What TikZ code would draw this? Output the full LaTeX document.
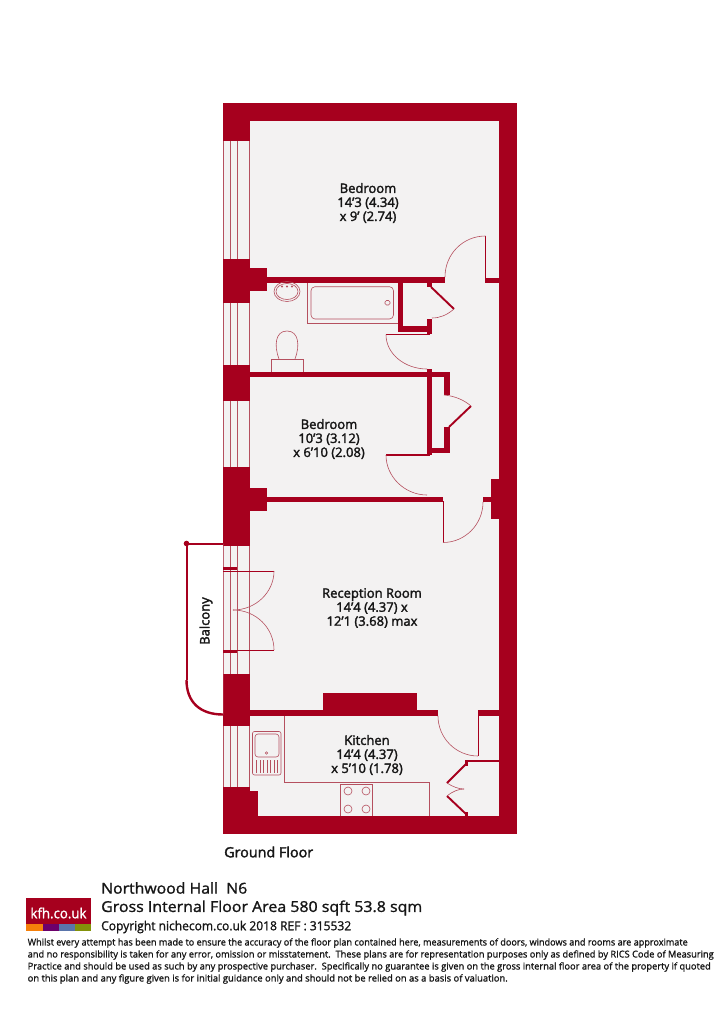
\documentclass[tikz,border=0pt]{standalone}
\usepackage{fontspec}
\usepackage{graphicx}
\setmainfont{Open Sans}[FakeBold=2.2]
\newfontfamily\finefont{Open Sans}[FakeBold=1.3]
\definecolor{wallc}{HTML}{A6001E}
\definecolor{floorc}{HTML}{F3F2F2}
\definecolor{thinc}{HTML}{B5505F}
\definecolor{inkc}{HTML}{161616}
\tikzset{
  wall/.style={fill=wallc,draw=none},
  thin line/.style={draw=thinc,line width=0.6pt},
  heavy line/.style={draw=wallc,line width=1.9pt},
  room/.style={text=inkc,align=center,inner sep=0pt,font=\fontsize{13}{14}\selectfont},
  head/.style={text=inkc,anchor=west,inner sep=0pt},
  fine/.style={text=inkc,anchor=west,inner sep=0pt,font=\finefont\fontsize{9.4}{10}\selectfont}
}
\newcommand{\wl}[4]{\fill[wall] (#1,#2) rectangle (#3,#4);}
\newcommand{\fit}[2]{\resizebox{#1pt}{\height}{#2}}
\begin{document}
\begin{tikzpicture}[x=1pt,y=-1pt]
\useasboundingbox (0,0) rectangle (715,1033);
% floor
\fill[floorc] (223,103) rectangle (517,834);
% window lines
\foreach \a/\b in {141/259,303/365,401/467,546/674,726/787}{
  \foreach \x in {223.4,230.5,237.5,249.5}{
    \draw[thin line] (\x,\a) -- (\x,\b);
  }
}
% outer walls
\wl{223}{103}{517}{121}
\wl{499}{103}{517}{834}
\wl{223}{816}{517}{834}
% piers
\wl{223}{103}{249.5}{141}
\wl{223}{259}{249.5}{303}
\wl{249}{268}{267}{291}
\wl{223}{365}{249.5}{401}
\wl{223}{467}{249.5}{546}
\wl{249}{487.5}{267}{511}
\wl{223}{674}{249.5}{726}
\wl{223}{787}{249.5}{816}
\wl{249}{791}{258}{816}
% first cross wall
\wl{267}{277}{445}{283}
\wl{485}{277.5}{499}{283}
\wl{397.5}{283}{403}{332}
\wl{397.5}{326}{432}{332}
\wl{427}{319}{432}{334}
\wl{427}{283}{432}{287}
% second cross wall
\wl{249}{372}{449.5}{377}
\wl{427}{369}{432}{455}
\wl{444}{372}{449.5}{395}
\wl{444}{427}{449.5}{453}
\wl{432}{447.5}{449.5}{453}
% third cross wall
\wl{267}{496.5}{443}{502}
\wl{483}{497}{490.5}{502}
\wl{490.5}{479}{499}{519}
% kitchen wall
\wl{249}{710}{438}{716}
\wl{323}{692.5}{416.5}{710}
\wl{478}{710}{499}{716}
\wl{465}{759.5}{499}{762}
\wl{464.5}{760}{467.5}{766}
\wl{464.5}{812}{467.5}{816}
% bedroom door
\draw[draw=wallc,line width=1pt] (485.5,236) -- (485.5,278);
\draw[thin line] (485.5,236) .. controls (463,236) and (445,254) .. (445,277);
% bathroom closet door
\draw[heavy line] (431,287) -- (454,309);
\draw[thin line] (454,309) .. controls (447,315) and (440,318) .. (432,318);
% bathroom door
\draw[draw=wallc,line width=1.2pt] (386,334.7) -- (430,334.7);
\draw[thin line] (386,334.7) .. controls (386,354) and (405,369) .. (427,369);
% second closet door
\draw[heavy line] (471,406) -- (449,427);
\draw[thin line] (444,395) .. controls (455,396) and (464,400) .. (471,406);
% bedroom 2 door
\draw[draw=wallc,line width=1.2pt] (386,455) -- (430,455);
\draw[thin line] (386,455) .. controls (386,477) and (405,495) .. (427,495);
% entrance door
\draw[draw=wallc,line width=1pt] (443,501) -- (443,542.5);
\draw[thin line] (443,542.5) .. controls (465,542.5) and (483,524.5) .. (483,502);
% balcony
\fill[white] (186.5,543.5) -- (223,543.5) -- (223,714.5) .. controls (200,714.5) and (186.5,702) .. (186.5,680) -- cycle;
\draw[draw=wallc,line width=2pt] (186.5,680) -- (186.5,543.5) -- (223,543.5);
\draw[draw=wallc,line width=2.4pt] (186.5,680) .. controls (186.5,702) and (200,714.5) .. (223,714.5);
\fill[wallc] (186.5,543.5) circle[radius=2.8];
% balcony doors
\wl{223}{567}{237}{570}
\wl{223}{650}{237}{653}
\draw[draw=wallc,line width=1pt] (223,571) -- (274,571);
\draw[draw=wallc,line width=1pt] (223,650) -- (274,650);
\draw[thin line] (274,571) .. controls (274,592) and (256,610) .. (233,610);
\draw[thin line] (274,650) .. controls (274,628) and (256,610) .. (233,610);
% kitchen door
\draw[draw=wallc,line width=1pt] (478,711) -- (478,756);
\draw[thin line] (438,716) .. controls (438,738) and (456,756) .. (478,756);
% kitchen cupboard doors
\draw[heavy line] (466,764) -- (447,783);
\draw[heavy line] (447,796) -- (466,814);
\draw[thin line] (447,783) .. controls (453,787) and (459,789) .. (464,789);
\draw[thin line] (447,796) .. controls (453,791) and (459,789) .. (464,789);
% basin
\draw[thin line] (287,291.5) ellipse[x radius=13,y radius=10];
\draw[thin line] (287,291.5) ellipse[x radius=11,y radius=8];
\foreach \x in {282,287,292}{\fill[thinc] (\x,286.5) circle[radius=1.2];}
% bath
\draw[thin line] (307,283) -- (307,323) -- (397.5,323);
\draw[thin line,rounded corners=4pt] (311,286.7) rectangle (393.5,319);
\draw[thin line,rounded corners=1.5pt] (385,300.5) rectangle (390,305);
% toilet
\draw[thin line] (271,372) -- (271,359) -- (303.5,359) -- (303.5,372);
\draw[thin line] (279,359) .. controls (274,346) and (275,331) .. (287,331) .. controls (299,331) and (300,346) .. (295,359);
% sink
\draw[thin line,rounded corners=2pt] (252.5,731.5) rectangle (281,775);
\draw[thin line,rounded corners=3pt] (255,734) rectangle (279,757);
\draw[thin line] (266.5,753) circle[radius=1.3];
\foreach \x in {256.5,260,263.5,267,270.5,274,277.5}{
  \draw[draw=thinc,line width=1pt] (\x,760) -- (\x,773);
}
% counter
\draw[thin line] (284,716) -- (284,782) -- (429.5,782) -- (429.5,816);
\draw[thin line] (340.5,816) -- (340.5,784.5) -- (372.5,784.5) -- (372.5,816);
\foreach \x in {348,366}{\foreach \y in {791,809}{\draw[thin line] (\x,\y) circle[radius=4];}}
% labels
\node[room] (bedone) at (368,203) {Bedroom\\14'3 (4.34)\\x 9' (2.74)};
\node[room] (bedtwo) at (329,439) {Bedroom\\10'3 (3.12)\\x 6'10 (2.08)};
\node[room] (recep) at (372,608) {Reception Room\\14'4 (4.37) x\\12'1 (3.68) max};
\node[room] (kitchen) at (367,755) {Kitchen\\14'4 (4.37)\\x 5'10 (1.78)};
\node[room,rotate=90] (balc) at (206,621) {Balcony};
\node[head,font=\fontsize{14}{15}\selectfont] (floorname) at (224,852) {\fit{89}{Ground Floor}};
% logo
\fill[wallc] (26,898) rectangle (91,925);
\fill[orange!85!brown] (26,924) rectangle (42.5,931);
\fill[violet!85!black] (42.5,924) rectangle (59,931);
\fill[cyan!40!blue!60!gray] (59,924) rectangle (75,931);
\fill[olive!80!green] (75,924) rectangle (91,931);
\node[text=white,inner sep=0pt,font=\finefont\fontsize{14}{15}\selectfont] (logo) at (58.5,913) {\fit{56}{kfh.co.uk}};
% heading
\node[head,font=\finefont\fontsize{15}{16}\selectfont] (addr) at (101,888) {\fit{146}{Northwood Hall\ \ N6}};
\node[head,font=\finefont\fontsize{15}{16}\selectfont] (area) at (101,908) {\fit{321}{Gross Internal Floor Area 580 sqft 53.8 sqm}};
\node[head,font=\finefont\fontsize{12.5}{14}\selectfont] (copy) at (101,927) {\fit{250}{Copyright nichecom.co.uk 2018 REF : 315532}};
% disclaimer
\node[fine] (la) at (27.5,943) {\fit{660}{Whilst every attempt has been made to ensure the accuracy of the floor plan contained here, measurements of doors, windows and rooms are approximate}};
\node[fine] (lb) at (27.5,955) {\fit{686}{and no responsibility is taken for any error, omission or misstatement.\ \ These plans are for representation purposes only as defined by RICS Code of Measuring}};
\node[fine] (lc) at (27.5,967) {\fit{683}{Practice and should be used as such by any prospective purchaser.\ \ Specifically no guarantee is given on the gross internal floor area of the property if quoted}};
\node[fine] (ld) at (27.5,979) {\fit{480}{on this plan and any figure given is for initial guidance only and should not be relied on as a basis of valuation.}};
\end{tikzpicture}
\end{document}
